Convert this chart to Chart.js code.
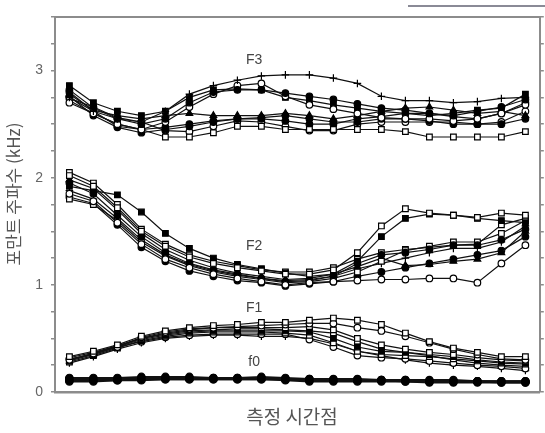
<!DOCTYPE html>
<html>
<head>
<meta charset="utf-8">
<script src="https://cdn.jsdelivr.net/npm/chart.js@4.4.0/dist/chart.umd.min.js"></script>
<style>
  body { margin: 0; background: #fff; }
  #wrap { width: 545px; height: 433px; }
</style>
</head>
<body>
<div id="wrap"><canvas id="chart"></canvas></div>
<script>
// 20 measurement time points
const timePoints = [0,1,2,3,4,5,6,7,8,9,10,11,12,13,14,15,16,17,18,19]

// y tick labels (kHz)
const yTickLabels = [0, 1, 2, 3]

// F0
const f0a = [0.12,0.12,0.12,0.13,0.13,0.13,0.13,0.13,0.13,0.12,0.12,0.11,0.11,0.11,0.11,0.10,0.10,0.10,0.10,0.10]
const f0b = [0.11,0.11,0.11,0.12,0.12,0.12,0.12,0.12,0.12,0.12,0.11,0.11,0.11,0.11,0.10,0.10,0.10,0.10,0.09,0.09]
const f0c = [0.13,0.13,0.13,0.14,0.14,0.14,0.13,0.13,0.14,0.13,0.12,0.12,0.12,0.11,0.11,0.11,0.11,0.10,0.10,0.10]
const f0d = [0.10,0.10,0.11,0.11,0.12,0.12,0.12,0.12,0.12,0.11,0.10,0.10,0.10,0.10,0.10,0.09,0.09,0.09,0.09,0.09]

// F1
const f1a = [0.33,0.38,0.44,0.52,0.57,0.60,0.62,0.63,0.65,0.65,0.67,0.69,0.67,0.63,0.55,0.47,0.41,0.37,0.33,0.33]
const f1b = [0.30,0.36,0.42,0.51,0.56,0.59,0.60,0.61,0.62,0.63,0.64,0.64,0.60,0.57,0.52,0.46,0.40,0.35,0.31,0.30]
const f1c = [0.32,0.37,0.43,0.50,0.55,0.58,0.60,0.60,0.60,0.60,0.61,0.58,0.50,0.44,0.40,0.37,0.35,0.32,0.30,0.29]
const f1d = [0.29,0.35,0.42,0.49,0.53,0.56,0.57,0.57,0.57,0.57,0.56,0.50,0.42,0.38,0.37,0.35,0.33,0.30,0.28,0.27]
const f1e = [0.28,0.34,0.41,0.48,0.52,0.55,0.56,0.56,0.56,0.55,0.53,0.46,0.38,0.35,0.34,0.33,0.31,0.29,0.27,0.26]
const f1f = [0.31,0.35,0.42,0.47,0.51,0.53,0.54,0.54,0.54,0.54,0.49,0.42,0.34,0.32,0.31,0.29,0.27,0.25,0.24,0.22]
const f1g = [0.27,0.33,0.40,0.46,0.50,0.52,0.53,0.53,0.52,0.52,0.50,0.45,0.38,0.34,0.30,0.27,0.25,0.24,0.22,0.20]
const f1h = [0.30,0.36,0.43,0.50,0.54,0.57,0.58,0.59,0.59,0.58,0.57,0.55,0.47,0.40,0.37,0.34,0.30,0.27,0.25,0.24]

// F2
const f2a = [2.02,1.92,1.72,1.50,1.36,1.26,1.20,1.16,1.13,1.10,1.10,1.14,1.30,1.55,1.71,1.67,1.65,1.63,1.67,1.65]
const f2b = [1.92,1.88,1.84,1.68,1.48,1.34,1.25,1.19,1.15,1.11,1.08,1.10,1.22,1.45,1.62,1.66,1.65,1.62,1.60,1.58]
const f2c = [1.85,1.78,1.58,1.38,1.24,1.16,1.10,1.06,1.03,1.00,1.02,1.03,1.04,1.05,1.05,1.06,1.06,1.02,1.20,1.37]
const f2d = [1.95,1.85,1.65,1.45,1.30,1.20,1.14,1.10,1.06,1.03,1.04,1.08,1.20,1.28,1.30,1.33,1.37,1.37,1.42,1.52]
const f2e = [1.80,1.75,1.60,1.40,1.27,1.18,1.12,1.08,1.05,1.02,1.03,1.06,1.12,1.22,1.32,1.36,1.40,1.40,1.48,1.60]
const f2f = [1.88,1.80,1.62,1.42,1.28,1.19,1.13,1.09,1.06,1.04,1.05,1.08,1.15,1.20,1.25,1.30,1.34,1.34,1.40,1.55]
const f2g = [1.98,1.90,1.70,1.48,1.33,1.23,1.16,1.11,1.08,1.05,1.06,1.10,1.17,1.25,1.18,1.19,1.22,1.24,1.30,1.50]
const f2h = [1.82,1.76,1.56,1.35,1.22,1.13,1.08,1.04,1.02,0.99,1.01,1.03,1.08,1.12,1.16,1.20,1.24,1.28,1.32,1.45]
const f2i = [2.05,1.95,1.75,1.52,1.38,1.28,1.22,1.18,1.14,1.12,1.12,1.16,1.24,1.30,1.33,1.35,1.37,1.38,1.56,1.62]

// F3
const f3a = [2.75,2.62,2.55,2.52,2.62,2.78,2.86,2.91,2.95,2.96,2.96,2.93,2.88,2.76,2.72,2.72,2.70,2.71,2.74,2.75]
const f3b = [2.82,2.65,2.55,2.50,2.55,2.70,2.80,2.82,2.82,2.79,2.76,2.73,2.69,2.65,2.63,2.60,2.58,2.62,2.66,2.73]
const f3c = [2.70,2.60,2.50,2.45,2.52,2.66,2.78,2.86,2.88,2.76,2.68,2.64,2.60,2.56,2.55,2.55,2.53,2.55,2.60,2.68]
const f3d = [2.86,2.70,2.62,2.58,2.62,2.75,2.82,2.83,2.82,2.75,2.72,2.68,2.65,2.62,2.60,2.58,2.60,2.63,2.65,2.78]
const f3e = [2.78,2.63,2.58,2.55,2.58,2.60,2.58,2.58,2.58,2.60,2.58,2.55,2.58,2.62,2.65,2.66,2.63,2.60,2.62,2.58]
const f3f = [2.72,2.60,2.50,2.45,2.38,2.38,2.42,2.48,2.48,2.45,2.45,2.45,2.45,2.45,2.43,2.38,2.38,2.38,2.38,2.43]
const f3g = [2.80,2.62,2.48,2.45,2.47,2.50,2.53,2.55,2.56,2.58,2.55,2.52,2.52,2.55,2.55,2.53,2.50,2.50,2.50,2.55]
const f3h = [2.76,2.58,2.47,2.42,2.45,2.48,2.52,2.55,2.55,2.53,2.50,2.50,2.55,2.57,2.60,2.60,2.57,2.55,2.60,2.70]
const f3i = [2.74,2.66,2.56,2.52,2.44,2.43,2.48,2.53,2.52,2.48,2.44,2.44,2.50,2.52,2.52,2.52,2.52,2.50,2.52,2.62]

const series = [
    [f0a,'f0'],[f0b,'f0'],[f0c,'f0'],[f0d,'f0'],
    [f1a,'os'],[f1b,'oc'],[f1c,'os'],[f1d,'fs'],[f1e,'os'],[f1f,'oc'],[f1g,'cr'],[f1h,'os'],
    [f2a,'os'],[f2b,'fs'],[f2c,'oc'],[f2d,'fc'],[f2e,'os'],[f2f,'cr'],[f2g,'tr'],[f2h,'fc'],[f2i,'os'],
    [f3a,'cr'],[f3b,'fc'],[f3c,'oc'],[f3d,'fs'],[f3e,'tr'],[f3f,'os'],[f3g,'fc'],[f3h,'fc'],[f3i,'oc'],
]

const markers = {
    f0: {pointStyle: 'circle', pointBackgroundColor: '#000', pointRadius: 3.8, borderWidth: 2.2},
    fc: {pointStyle: 'circle', pointBackgroundColor: '#000', pointRadius: 3.3},
    oc: {pointStyle: 'circle', pointBackgroundColor: '#fff', pointRadius: 3.3},
    fs: {pointStyle: 'rect', pointBackgroundColor: '#000', pointRadius: 4},
    os: {pointStyle: 'rect', pointBackgroundColor: '#fff', pointRadius: 4},
    tr: {pointStyle: 'triangle', pointBackgroundColor: '#000', pointRadius: 3.8},
    cr: {pointStyle: 'cross', pointBackgroundColor: '#000', pointRadius: 3.8},
}

const datasets = series.map(([vals, m]) => Object.assign({
    data: vals.map((v, i) => ({x: timePoints[i], y: v})),
    borderColor: '#111',
    borderWidth: 1.2,
    pointBorderColor: '#000',
    pointBorderWidth: 1.2,
    tension: 0,
}, markers[m]))

const frameColor = '#8c8c8c'

const textPlugin = {
    id: 'texts',
    afterDraw(chart){
        const {ctx, scales} = chart
        const xs = scales.x, ys = scales.y
        ctx.save()
        ctx.fillStyle = '#444'
        ctx.font = '14px "Liberation Sans", sans-serif'
        ctx.textAlign = 'center'
        ctx.textBaseline = 'middle'
        const labels = [['F3', 7.7, 3.10], ['F2', 7.7, 1.36], ['F1', 7.7, 0.785], ['f0', 7.7, 0.28]]
        labels.forEach(([t, x, y]) => ctx.fillText(t, xs.getPixelForValue(x), ys.getPixelForValue(y)))

        ctx.fillStyle = '#555'
        ctx.font = '19px "Noto Sans CJK KR", sans-serif'
        ctx.fillText('측정 시간점', 292, 417)

        ctx.translate(14, 194)
        ctx.rotate(-Math.PI / 2)
        ctx.font = '17px "Noto Sans CJK KR", sans-serif'
        ctx.fillText('포만트 주파수 (kHz)', 0, 0)
        ctx.restore()

        // scan artifact at top right
        ctx.save()
        ctx.strokeStyle = '#8a8a96'
        ctx.lineWidth = 2
        ctx.beginPath()
        ctx.moveTo(408, 6)
        ctx.lineTo(545, 6)
        ctx.stroke()
        ctx.restore()
    }
}

const xAxis = (pos, h, bw) => ({
    type: 'linear', position: pos, min: -0.6, max: 19.6,
    ticks: {display: false},
    grid: {display: false},
    border: {color: frameColor, width: bw},
    afterFit: (a) => { a.height = h },
})

const yAxis = (pos, w, showLabels) => ({
    type: 'linear', position: pos, min: 0, max: 3.5,
    afterBuildTicks: (a) => {
        const t = []
        for (let v = 0; v <= 3.5001; v += 0.25) t.push({value: Math.round(v * 100) / 100})
        a.ticks = t
    },
    ticks: {
        display: showLabels,
        autoSkip: false,
        padding: 8,
        color: '#666',
        font: {size: 14, family: '"Liberation Sans", sans-serif'},
        callback: (v) => yTickLabels.includes(v) ? String(v) : '',
    },
    grid: {drawOnChartArea: false, drawTicks: true, tickLength: 4, color: frameColor, lineWidth: 1.5},
    border: {color: frameColor, width: 2},
    afterFit: (a) => { a.width = w },
})

new Chart(document.getElementById('chart'), {
    type: 'line',
    data: {datasets},
    options: {
        responsive: true,
        maintainAspectRatio: false,
        animation: false,
        layout: {padding: 0},
        plugins: {legend: {display: false}, tooltip: {enabled: false}},
        scales: {
            x: xAxis('bottom', 41, 2.5),
            x2: xAxis('top', 17, 2),
            y: yAxis('left', 55, true),
            y2: yAxis('right', 5, false),
        },
    },
    plugins: [textPlugin],
})
</script>
</body>
</html>
